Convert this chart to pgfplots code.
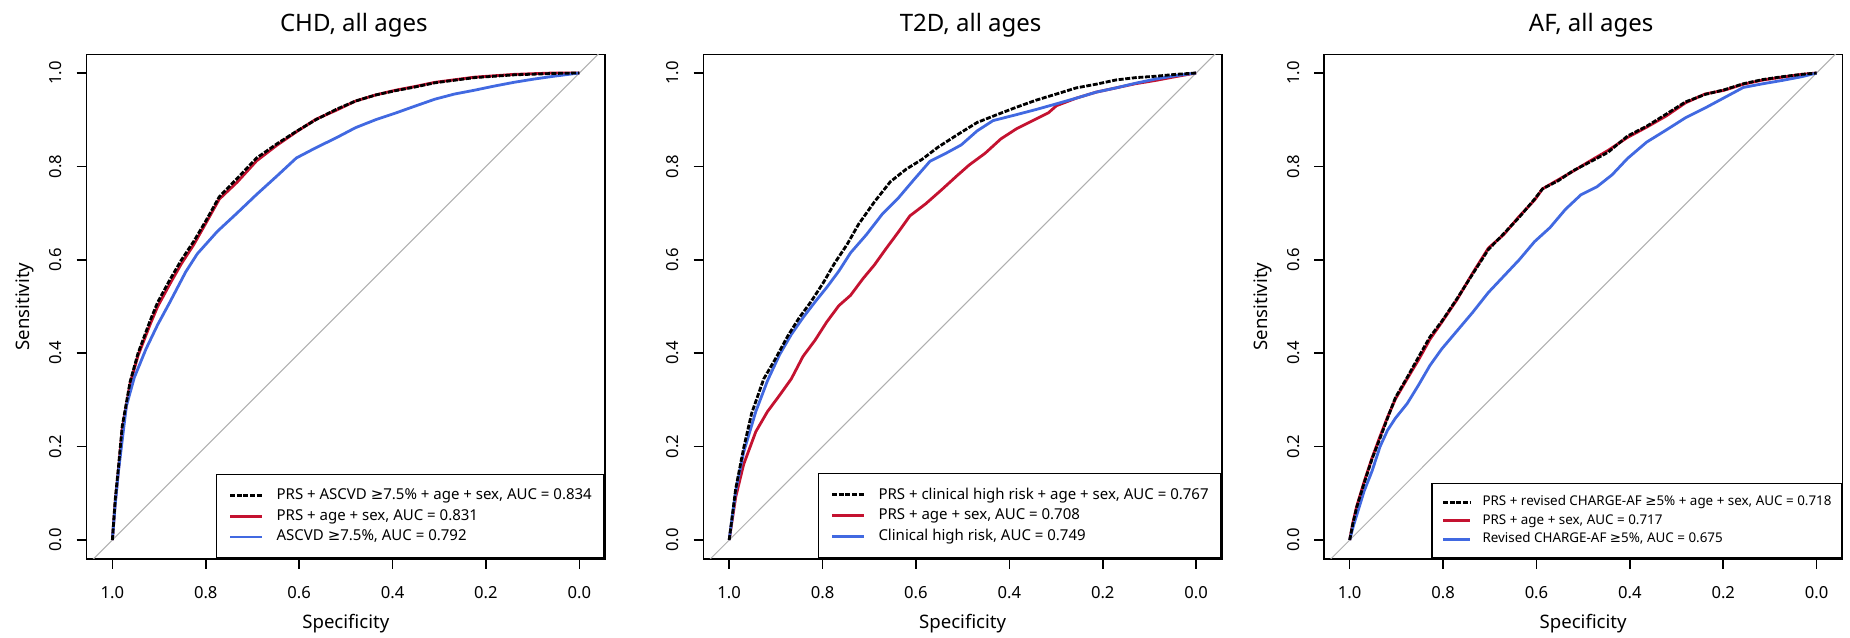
\documentclass[border=0pt]{standalone}
\usepackage{fontspec}
\setmainfont{Noto Sans}
\newfontfamily\symfont{DejaVu Sans}
\usepackage{pgfplots}
\pgfplotsset{compat=1.18}
\usetikzlibrary{calc}

\definecolor{rocred}{RGB}{196,18,48}
\definecolor{rocblue}{RGB}{65,105,225}
\definecolor{diag}{RGB}{175,175,175}
\newcommand{\gesym}{{\symfont ≥}}

% tick labels set by hand (R style: y labels turned, both well off the axis)
\tikzset{tl/.style={font=\fontsize{8.3pt}{10pt}\selectfont, inner sep=0pt,
  /pgf/number format/fixed, /pgf/number format/fixed zerofill,
  /pgf/number format/precision=1, /pgf/number format/assume math mode=true}}
\newcommand{\ticklabs}{%
  \pgfplotsinvokeforeach{0,0.2,0.4,0.6,0.8,1}{%
    \node[tl, anchor=base] at ($(axis cs:##1,-0.04)+(0pt,-19.65pt)$)
      {\pgfmathprintnumber{##1}};
    \node[tl, rotate=90, anchor=base] at ($(axis cs:1.055,##1)+(-12.5pt,0pt)$)
      {\pgfmathprintnumber{##1}};
  }}

\pgfplotsset{
  roc/.style={
    scale only axis, width=259.15pt, height=252.2pt,
    x dir=reverse, xmin=-0.055, xmax=1.055, ymin=-0.04, ymax=1.04,
    xtick={0,0.2,0.4,0.6,0.8,1}, ytick={0,0.2,0.4,0.6,0.8,1},
    xticklabels={,,}, yticklabels={,,},
    xtick pos=left, ytick pos=left,
    tick align=outside, major tick length=5pt,
    tick style={line width=0.8pt, black},
    axis line style={line width=0.8pt},
    clip mode=individual,
    label style={font=\fontsize{9.3pt}{11pt}\selectfont},
    xlabel style={at={(axis description cs:0.5,-0.1375)}, anchor=base},
    ylabel style={at={(axis description cs:-0.1094,0.5)}, anchor=base},
    every axis title/.style={at={(axis description cs:0.5154,1.045)}, anchor=base,
      font=\fontsize{12pt}{14pt}\selectfont},
    legend cell align=left,
    legend style={at={(1,0)}, anchor=south east, draw=black, line width=0.8pt,
      inner xsep=6.2pt, inner ysep=7pt, row sep=3.4pt, column sep=6.7pt,
      nodes={inner sep=0pt, anchor=west}, font=\fontsize{7.5pt}{9pt}\selectfont},
    legend image code/.code={\draw[#1] (0pt,0pt) -- (15.8pt,0pt);},
  },
  smalllegend/.style={
    legend style={inner xsep=5pt, inner ysep=6pt, row sep=2.8pt, column sep=5.5pt,
      font=\fontsize{6.7pt}{8pt}\selectfont},
    legend image code/.code={\draw[#1] (0pt,0pt) -- (13.5pt,0pt);},
  },
  diagline/.style={diag, line width=0.5pt, forget plot},
  redl/.style={rocred, line width=1.4pt},
  bluel/.style={rocblue, line width=1.4pt},
  blackl/.style={black, line width=1.4pt, dash pattern=on 2.5pt off 0.8pt},
}

\begin{document}
\begin{tikzpicture}
\useasboundingbox (0,0) rectangle (925pt,-318.5pt);

% ---- CHD ----
\begin{axis}[roc, at={(43.35pt,-27.15pt)}, anchor=north west,
  title={CHD, all ages}, xlabel={Specificity}, ylabel={Sensitivity}]
\addplot[diagline] coordinates {(1.1,-0.1) (-0.1,1.1)};
\addplot[redl, forget plot] coordinates {
  (1,0) (0.994,0.08) (0.987,0.15) (0.979,0.235) (0.962,0.335) (0.945,0.395)
  (0.919,0.462) (0.903,0.50) (0.877,0.548) (0.852,0.592) (0.826,0.632)
  (0.80,0.678) (0.771,0.73) (0.733,0.766) (0.691,0.812) (0.648,0.845)
  (0.606,0.874) (0.564,0.901) (0.521,0.92) (0.479,0.94) (0.436,0.953)
  (0.394,0.963) (0.352,0.971) (0.309,0.98) (0.225,0.991) (0.14,0.997)
  (0.055,1.0) (0,1)};
\addplot[bluel, forget plot] coordinates {
  (1,0) (0.994,0.075) (0.987,0.147) (0.970,0.287) (0.953,0.348) (0.928,0.409)
  (0.903,0.461) (0.877,0.509) (0.843,0.574) (0.818,0.613) (0.775,0.661)
  (0.733,0.70) (0.691,0.74) (0.648,0.779) (0.606,0.818) (0.564,0.84)
  (0.521,0.861) (0.479,0.883) (0.436,0.90) (0.394,0.914) (0.352,0.929)
  (0.309,0.944) (0.267,0.955) (0.225,0.963) (0.182,0.972) (0.14,0.98)
  (0.097,0.987) (0.055,0.993) (0,1)};
\addplot[blackl, forget plot] coordinates {
  (1,0) (0.994,0.086) (0.987,0.156) (0.979,0.243) (0.962,0.339) (0.945,0.40)
  (0.919,0.47) (0.903,0.509) (0.877,0.557) (0.852,0.60) (0.826,0.639)
  (0.80,0.683) (0.771,0.735) (0.733,0.774) (0.691,0.818) (0.648,0.848)
  (0.606,0.875) (0.564,0.90) (0.521,0.922) (0.479,0.94) (0.436,0.953)
  (0.394,0.962) (0.352,0.970) (0.309,0.979) (0.225,0.99) (0.14,0.996)
  (0.055,0.999) (0,1)};
\addlegendimage{blackl}
\addlegendentry{PRS + ASCVD \gesym7.5\% + age + sex, AUC = 0.834}
\addlegendimage{redl}
\addlegendentry{PRS + age + sex, AUC = 0.831}
\addlegendimage{bluel}
\addlegendentry{ASCVD \gesym7.5\%, AUC = 0.792}
\ticklabs
\end{axis}

% ---- T2D ----
\begin{axis}[roc, at={(351.75pt,-27.15pt)}, anchor=north west,
  title={T2D, all ages}, xlabel={Specificity}]
\addplot[diagline] coordinates {(1.1,-0.1) (-0.1,1.1)};
\addplot[redl, forget plot] coordinates {
  (1,0) (0.986,0.092) (0.969,0.162) (0.943,0.232) (0.918,0.275) (0.892,0.31)
  (0.867,0.345) (0.842,0.393) (0.816,0.428) (0.791,0.467) (0.765,0.502)
  (0.74,0.524) (0.714,0.559) (0.689,0.589) (0.664,0.624) (0.638,0.659)
  (0.613,0.694) (0.579,0.72) (0.545,0.75) (0.511,0.781) (0.486,0.803)
  (0.452,0.828) (0.418,0.859) (0.384,0.881) (0.35,0.898) (0.316,0.915)
  (0.299,0.93) (0.257,0.946) (0.214,0.959) (0.172,0.968) (0.13,0.977)
  (0.087,0.984) (0.045,0.992) (0,1)};
\addplot[bluel, forget plot] coordinates {
  (1,0) (0.986,0.105) (0.969,0.188) (0.943,0.275) (0.918,0.341) (0.892,0.397)
  (0.867,0.44) (0.842,0.476) (0.816,0.51) (0.791,0.541) (0.765,0.576)
  (0.74,0.615) (0.706,0.654) (0.672,0.698) (0.638,0.732) (0.604,0.772)
  (0.57,0.811) (0.536,0.828) (0.503,0.846) (0.469,0.876) (0.435,0.898)
  (0.384,0.911) (0.342,0.922) (0.299,0.934) (0.257,0.946) (0.214,0.959)
  (0.172,0.968) (0.13,0.978) (0.087,0.987) (0.045,0.994) (0,1)};
\addplot[blackl, forget plot] coordinates {
  (1,0) (0.986,0.11) (0.969,0.197) (0.952,0.271) (0.926,0.345) (0.901,0.388)
  (0.875,0.436) (0.85,0.476) (0.825,0.51) (0.799,0.55) (0.774,0.593)
  (0.748,0.632) (0.723,0.676) (0.689,0.724) (0.655,0.767) (0.621,0.794)
  (0.587,0.815) (0.553,0.841) (0.511,0.868) (0.469,0.894) (0.426,0.911)
  (0.384,0.927) (0.342,0.942) (0.299,0.955) (0.257,0.968) (0.214,0.976)
  (0.172,0.985) (0.13,0.99) (0.087,0.993) (0.045,0.997) (0,1)};
\addlegendimage{blackl}
\addlegendentry{PRS + clinical high risk + age + sex, AUC = 0.767}
\addlegendimage{redl}
\addlegendentry{PRS + age + sex, AUC = 0.708}
\addlegendimage{bluel}
\addlegendentry{Clinical high risk, AUC = 0.749}
\ticklabs
\end{axis}

% ---- AF ----
\begin{axis}[roc, smalllegend, at={(662pt,-27.15pt)}, anchor=north west,
  title={AF, all ages}, xlabel={Specificity}, ylabel={Sensitivity}]
\addplot[diagline] coordinates {(1.1,-0.1) (-0.1,1.1)};
\addplot[redl, forget plot] coordinates {
  (1,0) (0.993,0.038) (0.985,0.072) (0.969,0.125) (0.952,0.176) (0.935,0.222)
  (0.919,0.263) (0.902,0.302) (0.877,0.345) (0.853,0.385) (0.828,0.43)
  (0.803,0.466) (0.77,0.515) (0.737,0.571) (0.703,0.625) (0.67,0.654)
  (0.637,0.693) (0.604,0.728) (0.587,0.752) (0.554,0.771) (0.521,0.79)
  (0.488,0.81) (0.447,0.834) (0.405,0.862) (0.364,0.884) (0.322,0.908)
  (0.281,0.936) (0.239,0.955) (0.198,0.963) (0.157,0.976) (0.115,0.985)
  (0.074,0.991) (0.032,0.997) (0,1)};
\addplot[bluel, forget plot] coordinates {
  (1,0) (0.993,0.027) (0.985,0.053) (0.969,0.105) (0.952,0.148) (0.935,0.20)
  (0.919,0.235) (0.902,0.261) (0.877,0.292) (0.853,0.331) (0.828,0.374)
  (0.803,0.409) (0.77,0.448) (0.737,0.487) (0.703,0.53) (0.67,0.565)
  (0.637,0.60) (0.604,0.639) (0.571,0.669) (0.538,0.708) (0.505,0.739)
  (0.471,0.756) (0.438,0.782) (0.405,0.817) (0.364,0.852) (0.322,0.878)
  (0.281,0.904) (0.239,0.925) (0.198,0.947) (0.157,0.969) (0.115,0.977)
  (0.074,0.984) (0.032,0.992) (0,1)};
\addplot[blackl, forget plot] coordinates {
  (1,0) (0.993,0.036) (0.985,0.07) (0.969,0.122) (0.952,0.174) (0.935,0.218)
  (0.919,0.261) (0.902,0.305) (0.877,0.348) (0.853,0.391) (0.828,0.435)
  (0.803,0.468) (0.77,0.517) (0.737,0.569) (0.703,0.622) (0.67,0.656)
  (0.637,0.691) (0.604,0.73) (0.587,0.752) (0.554,0.769) (0.521,0.791)
  (0.488,0.808) (0.447,0.83) (0.405,0.865) (0.364,0.886) (0.322,0.912)
  (0.281,0.938) (0.239,0.954) (0.198,0.964) (0.157,0.977) (0.115,0.986)
  (0.074,0.992) (0.032,0.997) (0,1)};
\addlegendimage{blackl}
\addlegendentry{PRS + revised CHARGE-AF \gesym5\% + age + sex, AUC = 0.718}
\addlegendimage{redl}
\addlegendentry{PRS + age + sex, AUC = 0.717}
\addlegendimage{bluel}
\addlegendentry{Revised CHARGE-AF \gesym5\%, AUC = 0.675}
\ticklabs
\end{axis}
\end{tikzpicture}
\end{document}
